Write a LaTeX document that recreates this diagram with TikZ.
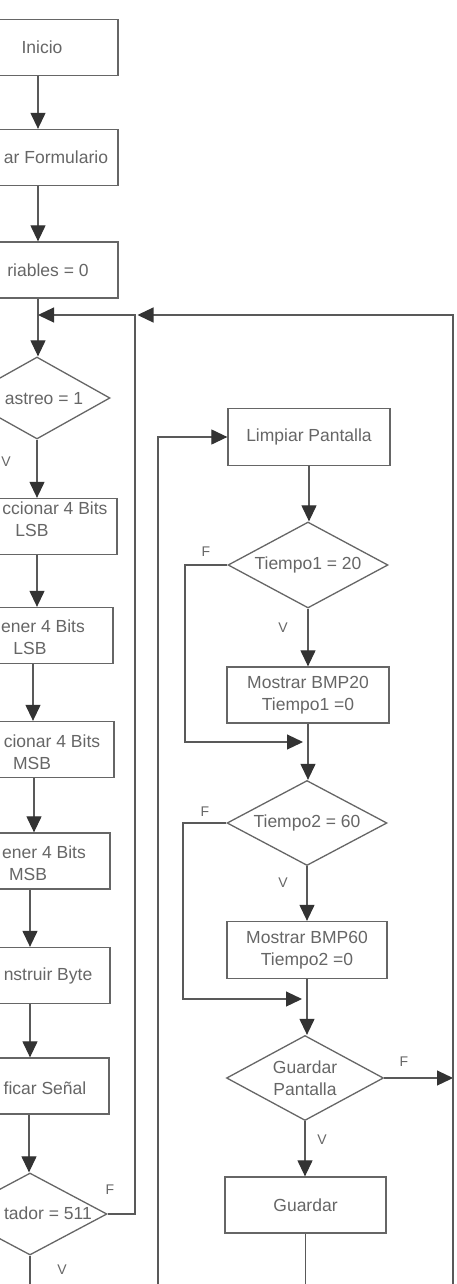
\documentclass[tikz,border=0pt]{standalone}
\usepackage{fontspec}
\setmainfont{Liberation Sans}
\usetikzlibrary{shapes.geometric,arrows.meta}
\begin{document}
\begin{tikzpicture}[x=1pt,y=-1pt,
  line/.style={draw=black!65, line width=1.2pt},
  arr/.style={line, -{Triangle[length=16pt,width=15pt,color=black!80,fill=black!80]}},
  txt/.style={text=black!60, font=\fontsize{17.5}{22}\selectfont, inner sep=0pt, align=center},
  box/.style={txt, draw=black!60, line width=1.3pt, rectangle, minimum width=160pt, minimum height=56pt},
  dec/.style={txt, draw=black!60, line width=1.3pt, diamond, aspect=1.85},
  lab/.style={text=black!60, font=\fontsize{14}{16}\selectfont, inner sep=0pt}
]
\useasboundingbox (0,0) rectangle (456,1284);
\clip (0,0) rectangle (456,1284);
\fill[white] (0,0) rectangle (456,1284);

% left column (boxes run past the left edge; only the visible text is printed)
\node[box] (inicio) at (38,47.5) {};
\node[txt] (inicioT) at (42,47.5) {Inicio};
\node[box] (form) at (38,157.5) {};
\node[txt] (formT) at (56,157.5) {ar Formulario};
\node[box] (vars) at (38,270) {};
\node[txt] (varsT) at (48,270) {riables = 0};
\node[dec, minimum width=146pt, minimum height=82pt] (rast) at (37,398) {};
\node[txt] (rastT) at (44,399) {astreo = 1};
\node[box] (sel1) at (37,526.5) {};
\node[txt] (sel1T) at (55,508) {ccionar 4 Bits};
\node[txt] (sel1U) at (32,530) {LSB};
\node[box] (obt1) at (33,635.5) {};
\node[txt] (obt1T) at (43,626) {ener 4 Bits};
\node[txt] (obt1U) at (30,648) {LSB};
\node[box] (sel2) at (34,749.5) {};
\node[txt] (sel2T) at (52,741) {cionar 4 Bits};
\node[txt] (sel2U) at (32,763) {MSB};
\node[box] (obt2) at (30,861) {};
\node[txt] (obt2T) at (44,852) {ener 4 Bits};
\node[txt] (obt2U) at (28,874) {MSB};
\node[box] (byte) at (30,975.5) {};
\node[txt] (byteT) at (48,976) {nstruir Byte};
\node[box] (graf) at (29,1086) {};
\node[txt] (grafT) at (45,1088) {ficar Señal};
\node[dec, minimum width=154pt, minimum height=82pt] (cont) at (30,1214) {};
\node[txt] (contT) at (48,1213) {tador = 511};

% right column
\node[box, minimum width=162pt, minimum height=57pt] (limp) at (309,437) {Limpiar Pantalla};
\node[dec, minimum width=160pt, minimum height=86pt] (t1) at (308,565) {Tiempo1 = 20};
\node[box, minimum width=162pt] (bmp20) at (308,695) {Mostrar BMP20\\Tiempo1 =0};
\node[dec, minimum width=160pt, minimum height=85pt] (t2) at (307,823) {Tiempo2 = 60};
\node[box, minimum height=57pt] (bmp60) at (307,950) {Mostrar BMP60\\Tiempo2 =0};
\node[dec, minimum width=157pt, minimum height=85pt] (gp) at (305,1078) {Guardar\\Pantalla};
\node[box, minimum width=161pt] (guard) at (305.5,1205) {Guardar};

% helper coordinates
\coordinate (j1) at (38,315);
\coordinate (lpA) at (135,1214);
\coordinate (lpB) at (135,315);
\coordinate (rBot) at (453,1290);
\coordinate (rTop) at (453,315);
\coordinate (rIn) at (453,1078);
\coordinate (rEnd) at (137.5,315);
\coordinate (lBot) at (158,1290);
\coordinate (lTop) at (158,437);
\coordinate (gBot) at (305.5,1290);
\coordinate (cBot) at (30,1290);
\coordinate (f1a) at (185,565);
\coordinate (f1b) at (185,742);
\coordinate (f1c) at (303,742);
\coordinate (f2a) at (183,823);
\coordinate (f2b) at (183,999);
\coordinate (f2c) at (302,999);

% left flow
\draw[arr] (inicio.south) -- (inicio.south |- form.north);
\draw[arr] (form.south) -- (form.south |- vars.north);
\draw[arr] (vars.south) -- (vars.south |- rast.north);
\draw[arr] (rast.south) -- (rast.south |- sel1.north);
\draw[arr] (sel1.south) -- (sel1.south |- obt1.north);
\draw[arr] (obt1.south) -- (obt1.south |- sel2.north);
\draw[arr] (sel2.south) -- (sel2.south |- obt2.north);
\draw[arr] (obt2.south) -- (obt2.south |- byte.north);
\draw[arr] (byte.south) -- (byte.south |- graf.north);
\draw[arr] (graf.south) -- (graf.south |- cont.north);
\draw[line] (cont.south) -- (cBot);
\draw[arr] (cont.east) -- (lpA) -- (lpB) -- (j1);

% right flow
\draw[arr] (lBot) -- (lTop) -- (limp.west);
\draw[arr] (limp.south) -- (limp.south |- t1.north);
\draw[arr] (t1.south) -- (t1.south |- bmp20.north);
\draw[arr] (bmp20.south) -- (bmp20.south |- t2.north);
\draw[arr] (t2.south) -- (t2.south |- bmp60.north);
\draw[arr] (bmp60.south) -- (bmp60.south |- gp.north);
\draw[arr] (gp.south) -- (gp.south |- guard.north);
\draw[line] (guard.south) -- (gBot);
\draw[arr] (t1.west) -- (f1a) -- (f1b) -- (f1c);
\draw[arr] (t2.west) -- (f2a) -- (f2b) -- (f2c);
\draw[arr] (gp.east) -- (rIn);
\draw[arr] (rBot) -- (rTop) -- (rEnd);

% labels
\node[lab] (vR) at (6,462) {V};
\node[lab] (fC) at (110,1190) {F};
\node[lab] (vC) at (62,1270) {V};
\node[lab] (f1) at (206,552) {F};
\node[lab] (v1) at (283,628) {V};
\node[lab] (f2) at (205,812) {F};
\node[lab] (v2) at (283,883) {V};
\node[lab] (f3) at (404,1062) {F};
\node[lab] (v3) at (322,1140) {V};
\end{tikzpicture}
\end{document}
